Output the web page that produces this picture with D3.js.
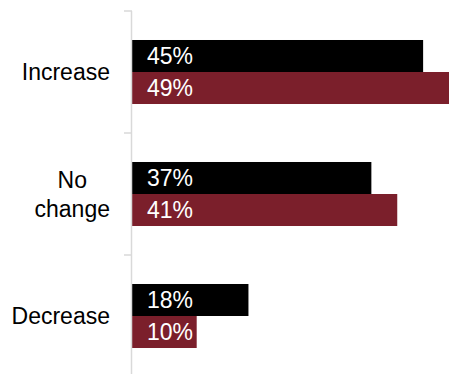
<!DOCTYPE html>
<html>
<head>
<meta charset="utf-8">
<script src="https://cdn.jsdelivr.net/npm/d3@7/dist/d3.min.js"></script>
<style>
  html, body { margin: 0; padding: 0; background: #fff; }
  svg { display: block; font-family: "Liberation Sans", Arial, sans-serif; }
</style>
</head>
<body>
<svg id="chart" width="449" height="374"></svg>
<script>
// Categories (top to bottom) with the line breaks used in their labels
const categories = ["Increase", "No change", "Decrease"];
const categoryLines = [["Increase"], ["No", "change"], ["Decrease"]];
// Two series, values in percent
const seriesNames = ["Series A", "Series B"];
const seriesA = [45, 37, 18];
const seriesB = [49, 41, 10];
const seriesColors = ["#000000", "#7b1f2b"];

const svg = d3.select("#chart");
const width = 449, height = 374;
const margin = { left: 132, right: 0, top: 11, bottom: -3 };
const fontSize = 23;

const x = d3.scaleLinear()
  .domain([0, 49])
  .range([margin.left, width - margin.right]);

const y = d3.scaleBand()
  .domain(categories)
  .range([margin.top, height - margin.bottom])
  .paddingInner(0)
  .paddingOuter(0);

const inner = d3.scaleBand()
  .domain(seriesNames)
  .range([0, y.bandwidth()])
  .paddingInner(0)
  .paddingOuter(0.906);

const rows = categories.map((c, i) => ({
  cat: c,
  vals: [
    { s: seriesNames[0], v: seriesA[i], color: seriesColors[0] },
    { s: seriesNames[1], v: seriesB[i], color: seriesColors[1] }
  ]
}));

// Bars
const groups = svg.append("g").selectAll("g")
  .data(rows)
  .join("g")
  .attr("transform", d => `translate(0,${y(d.cat)})`);

groups.selectAll("rect")
  .data(d => d.vals)
  .join("rect")
  .attr("x", x(0))
  .attr("y", d => inner(d.s))
  .attr("width", d => x(d.v) - x(0))
  .attr("height", inner.bandwidth())
  .attr("fill", d => d.color);

// Value labels inside the bars
groups.selectAll("text.val")
  .data(d => d.vals)
  .join("text")
  .attr("class", "val")
  .attr("x", x(0) + 15)
  .attr("y", d => inner(d.s) + inner.bandwidth() / 2)
  .attr("dy", "0.36em")
  .attr("fill", "#ffffff")
  .attr("font-size", fontSize)
  .text(d => d.v + "%");

// Vertical axis with outward ticks at band boundaries
const axisG = svg.append("g");
axisG.append("line")
  .attr("x1", x(0) - 0.5).attr("x2", x(0) - 0.5)
  .attr("y1", margin.top).attr("y2", height)
  .attr("stroke", "#d9d9d9").attr("stroke-width", 1.5);
const boundaries = categories.map(c => y(c)).concat([y(categories[2]) + y.bandwidth()]);
axisG.selectAll("line.tick")
  .data(boundaries)
  .join("line")
  .attr("class", "tick")
  .attr("x1", x(0) - 8).attr("x2", x(0))
  .attr("y1", d => d).attr("y2", d => d)
  .attr("stroke", "#d9d9d9").attr("stroke-width", 1.5);

// Category labels: block right-aligned to the axis, lines centred within the block
const labelRight = 110;
const lineH = 29;
categories.forEach((c, i) => {
  const lines = categoryLines[i];
  const g = svg.append("g");
  const texts = lines.map((t, j) => g.append("text")
    .attr("font-size", fontSize)
    .attr("fill", "#000")
    .attr("text-anchor", "middle")
    .attr("y", y(c) + y.bandwidth() / 2 + (j - (lines.length - 1) / 2) * lineH)
    .attr("dy", "0.36em")
    .text(t));
  const maxW = d3.max(texts, t => t.node().getComputedTextLength());
  texts.forEach(t => t.attr("x", labelRight - maxW / 2));
});
</script>
</body>
</html>
